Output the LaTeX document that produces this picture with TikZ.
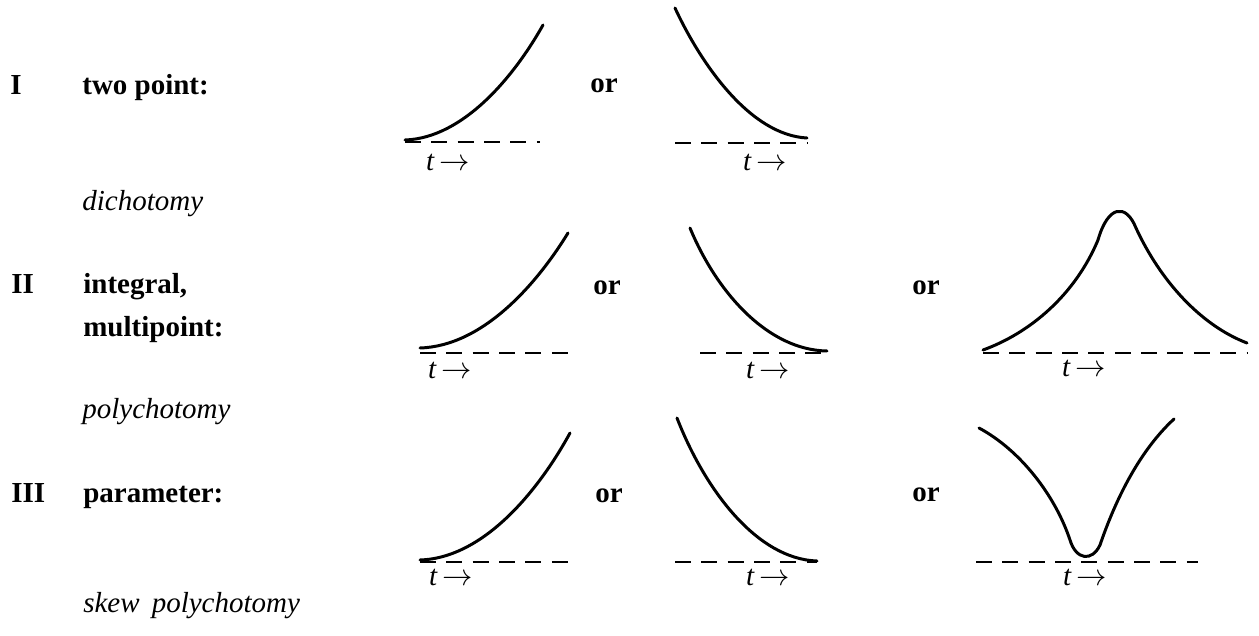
\documentclass[tikz,border=0pt]{standalone}
\usepackage{fontspec}
\setmainfont{Liberation Serif}

\begin{document}
\begin{tikzpicture}[x=0.02cm, y=-0.02cm,
  numtxt/.style={anchor=base west, inner sep=0pt, font=\fontsize{16.5}{20}\selectfont\bfseries},
  kindtxt/.style={anchor=base west, inner sep=0pt, font=\fontsize{16.5}{20}\selectfont\itshape},
  ortxt/.style={inner sep=0pt, font=\fontsize{16.5}{20}\selectfont\bfseries},
  tlab/.style={inner sep=0pt, font=\fontsize{16.5}{20}\selectfont},
  curve/.style={line width=1.7pt, line cap=round},
  baseline/.style={line width=1.2pt, dash pattern=on 9pt off 6pt},
]
\useasboundingbox (0,0) rectangle (1259,636);

% =================== labels on the left ===================
\node[numtxt] (nI)   at (10,94)  {I};
\node[numtxt] (lI)   at (82,94)  {two point:};
\node[kindtxt] (kI)  at (82,210) {dichotomy};

\node[numtxt] (nII)  at (11,293) {II};
\node[numtxt] (lII)  at (83,293) {integral,};
\node[numtxt] (lIIb) at (83,336) {multipoint:};
\node[kindtxt] (kII) at (82,418) {polychotomy};

\node[numtxt] (nIII) at (11,502) {III};
\node[numtxt] (lIII) at (83,502) {parameter:};
\node[kindtxt] (kIII) at (83,612) {skew\, polychotomy};

% =================== row I ===================
\draw[curve] (405,140) .. controls (464,138) and (515,75) .. (543,25);
\draw[baseline] (405,142) -- (540,142);
\node[tlab] (tIa) at (448,162) {\textit{t}\,$\rightarrow$};
\node[ortxt] (oIa) at (604,86) {or};
\draw[curve] (675,8) .. controls (701,64) and (750,135) .. (807,138);
\draw[baseline] (675,143) -- (807,143);
\node[tlab] (tIb) at (765,162) {\textit{t}\,$\rightarrow$};

% =================== row II ===================
\draw[curve] (420,348) .. controls (484,346) and (538,282) .. (568,233);
\draw[baseline] (420,353) -- (575,353);
\node[tlab] (tIIa) at (450,370) {\textit{t}\,$\rightarrow$};
\node[ortxt] (oIIa) at (607,288) {or};
\draw[curve] (690,228) .. controls (717,293) and (768,350) .. (827,351);
\draw[baseline] (700,353) -- (828,353);
\node[tlab] (tIIb) at (768,370) {\textit{t}\,$\rightarrow$};
\node[ortxt] (oIIb) at (926,288) {or};
% peak
\draw[curve] (983,350) .. controls (1030,333) and (1075,295) .. (1098,240)
  .. controls (1108,205) and (1126,203) .. (1136,228)
  .. controls (1160,280) and (1200,325) .. (1247,343);
\draw[baseline] (983,353) -- (1247,353);
\node[tlab] (tIIc) at (1084,368) {\textit{t}\,$\rightarrow$};

% =================== row III ===================
\draw[curve] (420,560) .. controls (485,558) and (540,488) .. (570,433);
\draw[baseline] (420,562) -- (575,562);
\node[tlab] (tIIIa) at (451,577) {\textit{t}\,$\rightarrow$};
\node[ortxt] (oIIIa) at (609,496) {or};
\draw[curve] (677,418) .. controls (705,490) and (757,559) .. (817,561);
\draw[baseline] (675,562) -- (817,562);
\node[tlab] (tIIIb) at (768,577) {\textit{t}\,$\rightarrow$};
\node[ortxt] (oIIIb) at (926,495) {or};
% valley
\draw[curve] (979,428) .. controls (1020,450) and (1055,495) .. (1070,540)
  .. controls (1076,560) and (1092,562) .. (1100,545)
  .. controls (1112,510) and (1135,455) .. (1174,419);
\draw[baseline] (976,562) -- (1198,562);
\node[tlab] (tIIIc) at (1085,577) {\textit{t}\,$\rightarrow$};

\end{tikzpicture}
\end{document}
